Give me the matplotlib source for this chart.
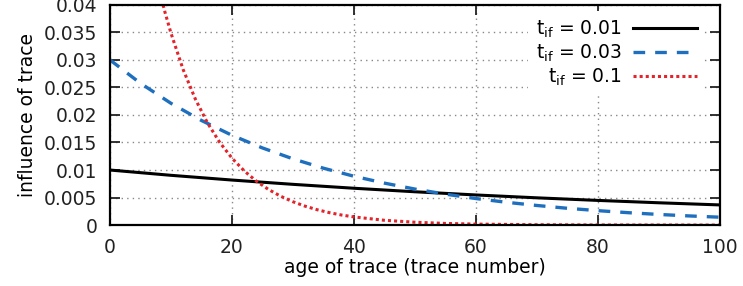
import matplotlib
matplotlib.use('Agg')
import matplotlib.pyplot as plt

# values
age_slow = [0, 10, 20, 30, 40, 50, 60, 70, 80, 90, 100]
infl_001 = [0.0100, 0.00904, 0.00818, 0.00740, 0.00669, 0.00605,
            0.00547, 0.00495, 0.00448, 0.00405, 0.00366]

age_mid = [0, 5, 10, 15, 20, 25, 30, 35, 40, 45, 50,
           55, 60, 65, 70, 75, 80, 85, 90, 95, 100]
infl_003 = [0.0300, 0.02576, 0.02212, 0.01900, 0.01631, 0.01401, 0.01203,
            0.01033, 0.00887, 0.00762, 0.00654, 0.00562, 0.00482, 0.00414,
            0.00356, 0.00305, 0.00262, 0.00225, 0.00193, 0.00166, 0.00143]

age_fast = [8, 9, 10, 12, 14, 16, 18, 20, 22, 24, 26, 28, 30, 32, 34, 36,
            38, 40, 45, 50, 55, 60, 70, 80, 90, 100]
infl_01 = [0.04305, 0.03874, 0.03487, 0.02824, 0.02288, 0.01853, 0.01501,
           0.01216, 0.00985, 0.00798, 0.00646, 0.00523, 0.00424, 0.00343,
           0.00278, 0.00225, 0.00182, 0.00148, 0.00087, 0.00052, 0.00030,
           0.00018, 0.00006, 0.00002, 0.00001, 0.0]

x_ticks = [0, 20, 40, 60, 80, 100]
y_ticks = [0, 0.005, 0.01, 0.015, 0.02, 0.025, 0.03, 0.035, 0.04]
y_labels = ['0', '0.005', '0.01', '0.015', '0.02', '0.025', '0.03', '0.035', '0.04']

plt.rcParams['font.family'] = 'DejaVu Sans'
plt.rcParams['font.size'] = 13.5

fig = plt.figure(figsize=(7.43, 2.86), dpi=100)
ax = fig.add_axes([0.148, 0.213, 0.821, 0.770])

ax.plot(age_slow, infl_001, color='black', lw=2.2,
        label=r'$\mathregular{t_{if}}$ = 0.01')
ax.plot(age_mid, infl_003, color='#1f6fbf', lw=2.4, dashes=(3.5, 3),
        label=r'$\mathregular{t_{if}}$ = 0.03')
ax.plot(age_fast, infl_01, color='#e3242b', lw=2.2, dashes=(1, 1),
        label=r'$\mathregular{t_{if}}$ = 0.1')

ax.set_xlim(0, 100)
ax.set_ylim(0, 0.04)
ax.set_xticks(x_ticks)
ax.set_yticks(y_ticks)
ax.set_yticklabels(y_labels)
ax.grid(True, color='#888888', linestyle=(0, (1, 3)), lw=1)
ax.tick_params(direction='in', length=7, width=1.3, top=True, right=True,
               colors='#222222')
ax.tick_params(axis='y', pad=9)
ax.tick_params(axis='x', pad=9)
for s in ax.spines.values():
    s.set_linewidth(1.6)

ax.set_xlabel('age of trace (trace number)', labelpad=1)
ax.set_ylabel('influence of trace', labelpad=5)

leg = ax.legend(loc='upper right', bbox_to_anchor=(0.99, 1.014),
                markerfirst=False, frameon=True,
                facecolor='white', edgecolor='none', framealpha=1,
                handlelength=3.4, handletextpad=0.6, labelspacing=0.15,
                borderaxespad=0.5, fancybox=False)

fig.savefig('out.png', dpi=100)
